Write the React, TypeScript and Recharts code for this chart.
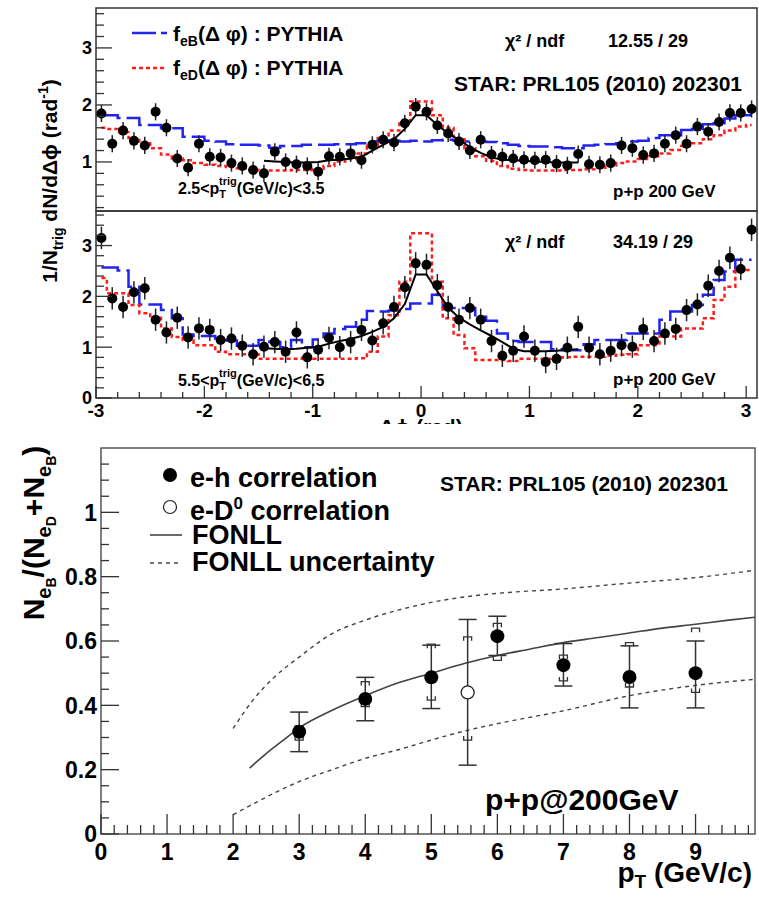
import React from 'react';
import { ComposedChart, Line, Scatter, XAxis, YAxis, ErrorBar, ReferenceArea } from 'recharts';

const FONT = '"Liberation Sans", Arial, Helvetica, sans-serif';
const BLUE = '#2323f0';
const RED = '#ff1c1c';
const FRAME = '#333';
const GREY = '#444';

// delta-phi bin centres (rad)
const phiBins = [
  -2.95, -2.85, -2.75, -2.65, -2.55, -2.45, -2.35, -2.25, -2.15, -2.05,
  -1.95, -1.85, -1.75, -1.65, -1.55, -1.45, -1.35, -1.25, -1.15, -1.05,
  -0.95, -0.85, -0.75, -0.65, -0.55, -0.45, -0.35, -0.25, -0.15, -0.05,
  0.05, 0.15, 0.25, 0.35, 0.45, 0.55, 0.65, 0.75, 0.85, 0.95,
  1.05, 1.15, 1.25, 1.35, 1.45, 1.55, 1.65, 1.75, 1.85, 1.95,
  2.05, 2.15, 2.25, 2.35, 2.45, 2.55, 2.65, 2.75, 2.85, 2.95,
  3.05,
];
const fitBins = phiBins.slice(15, 45);

// 2.5 < pT trig < 3.5
const lowData = [
  1.85, 1.32, 1.55, 1.37, 1.29, 1.88, 1.6, 1.06, 0.9, 1.32,
  1.09, 1.08, 0.98, 0.93, 0.86, 0.8, 1.18, 1.0, 0.96, 0.93,
  0.83, 1.1, 1.09, 1.15, 1.03, 1.3, 1.39, 1.34, 1.68, 1.97,
  1.88, 1.64, 1.5, 1.36, 1.2, 1.39, 1.13, 1.09, 1.06, 1.04,
  1.03, 1.04, 0.97, 0.94, 1.14, 0.96, 0.95, 0.98, 1.29, 1.24,
  1.12, 1.15, 1.32, 1.47, 1.32, 1.62, 1.53, 1.7, 1.86, 1.86,
  1.93,
];
const lowPythiaB = [
  1.82, 1.82, 1.77, 1.77, 1.65, 1.65, 1.59, 1.59, 1.44, 1.44,
  1.37, 1.36, 1.31, 1.3, 1.3, 1.29, 1.25, 1.28, 1.28, 1.3,
  1.3, 1.3, 1.31, 1.31, 1.33, 1.36, 1.38, 1.37, 1.36, 1.37,
  1.36, 1.38, 1.39, 1.37, 1.36, 1.36, 1.35, 1.33, 1.3, 1.28,
  1.27, 1.27, 1.26, 1.24, 1.24, 1.29, 1.3, 1.31, 1.33, 1.36,
  1.37, 1.42, 1.47, 1.47, 1.56, 1.58, 1.66, 1.68, 1.76, 1.82,
  1.82,
];
const lowPythiaD = [
  1.6, 1.58, 1.52, 1.42, 1.33, 1.24, 1.13, 1.06, 1.03, 0.98,
  0.95, 0.93, 0.91, 0.89, 0.86, 0.85, 0.85, 0.85, 0.86, 0.86,
  0.88, 0.93, 1.01, 1.05, 1.15, 1.28, 1.42, 1.55, 1.72, 2.06,
  2.06, 1.82, 1.6, 1.4, 1.24, 1.1, 1.02, 0.93, 0.88, 0.86,
  0.85, 0.85, 0.85, 0.86, 0.86, 0.87, 0.9, 0.94, 0.98, 1.01,
  1.05, 1.1, 1.15, 1.21, 1.28, 1.33, 1.4, 1.47, 1.55, 1.62,
  1.65,
];
const lowFit = [
  1.02, 1.01, 1.0, 0.99, 0.99, 1.0, 1.03, 1.04, 1.06, 1.09,
  1.2, 1.3, 1.4, 1.58, 1.82, 1.82, 1.65, 1.5, 1.39, 1.26,
  1.16, 1.08, 1.04, 1.03, 1.02, 1.01, 1.0, 0.99, 0.99, 0.99,
];
const lowErr = 0.15;

// 5.5 < pT trig < 6.5
const highData = [
  3.15, 1.96, 1.79, 2.08, 2.16, 1.54, 1.29, 1.58, 1.19, 1.37,
  1.34, 1.14, 1.17, 1.03, 0.86, 1.01, 1.1, 0.91, 1.29, 0.8,
  0.95, 1.18, 1.0, 1.1, 1.34, 1.13, 1.47, 1.79, 2.18, 2.65,
  2.62, 2.22, 1.79, 1.54, 1.77, 1.54, 1.12, 0.83, 0.93, 1.21,
  0.93, 0.71, 0.77, 0.99, 1.4, 0.99, 0.86, 0.93, 1.04, 1.01,
  1.36, 1.12, 1.27, 1.36, 1.73, 1.84, 2.21, 2.5, 2.76, 2.54,
  3.31,
];
const highPythiaB = [
  2.57, 2.57, 2.51, 2.19, 1.84, 1.84, 1.73, 1.57, 1.25, 1.22,
  1.22, 1.17, 1.13, 1.03, 1.03, 1.14, 1.1, 1.0, 1.14, 1.0,
  1.15, 1.27, 1.36, 1.4, 1.54, 1.71, 1.7, 1.72, 1.75, 1.86,
  1.86, 2.03, 1.77, 1.77, 1.77, 1.6, 1.52, 1.27, 1.12, 1.1,
  1.1, 1.1, 0.96, 0.94, 0.94, 1.06, 1.14, 1.14, 1.14, 1.27,
  1.27, 1.27, 1.54, 1.7, 1.7, 1.83, 2.03, 2.32, 2.49, 2.72,
  2.72,
];
const highPythiaD = [
  2.36, 2.06, 2.06, 1.83, 1.67, 1.58, 1.37, 1.2, 1.14, 1.04,
  1.04, 0.91, 0.86, 0.86, 0.86, 0.77, 0.77, 0.77, 0.77, 0.79,
  0.77, 0.77, 0.77, 0.77, 0.78, 0.91, 1.21, 1.63, 2.29, 3.24,
  3.24, 2.29, 1.57, 1.24, 0.98, 0.75, 0.75, 0.75, 0.73, 0.77,
  0.77, 0.77, 0.79, 0.8, 0.81, 0.81, 0.81, 0.83, 0.85, 0.86,
  1.04, 1.04, 1.21, 1.21, 1.37, 1.37, 1.57, 1.93, 2.19, 2.52,
  2.52,
];
const highFit = [
  0.98, 0.97, 0.96, 0.97, 0.99, 1.01, 1.07, 1.12, 1.16, 1.22,
  1.3, 1.4, 1.57, 1.85, 2.43, 2.43, 2.1, 1.78, 1.58, 1.45,
  1.33, 1.22, 1.1, 0.97, 0.92, 0.92, 0.92, 0.93, 0.95, 0.96,
];
const highErr = 0.22;

// B fraction vs pT
const ehPt = [3, 4, 5, 6, 7, 8, 9];
const ehRatio = [0.318, 0.42, 0.487, 0.615, 0.525, 0.488, 0.5];
const ehStatLo = [0.256, 0.352, 0.39, 0.555, 0.46, 0.392, 0.392];
const ehStatHi = [0.379, 0.487, 0.587, 0.677, 0.592, 0.585, 0.6];
const ehSysLo = [0.292, 0.396, 0.416, 0.54, 0.476, 0.457, 0.44];
const ehSysHi = [0.336, 0.474, 0.59, 0.655, 0.556, 0.595, 0.64];

const d0Pt = [5.55];
const d0Ratio = [0.44];
const d0StatLo = [0.214];
const d0StatHi = [0.667];
const d0SysLo = [0.292];
const d0SysHi = [0.613];

const fonllPt = [2.25, 2.5, 2.75, 3, 3.5, 4, 4.5, 5, 5.5, 6, 6.5, 7, 7.5, 8, 8.5, 9, 9.5, 9.9];
const fonllMid = [0.205, 0.25, 0.29, 0.33, 0.385, 0.43, 0.47, 0.5, 0.53, 0.555, 0.575, 0.595, 0.61, 0.625, 0.64, 0.652, 0.665, 0.674];
const fonllBandPt = [2, 2.3, 2.6, 3, 3.5, 4, 4.5, 5, 5.5, 6, 7, 8, 9, 9.9];
const fonllHi = [0.328, 0.416, 0.483, 0.55, 0.623, 0.665, 0.696, 0.72, 0.737, 0.748, 0.762, 0.78, 0.797, 0.82];
const fonllLo = [0.06, 0.093, 0.125, 0.163, 0.2, 0.235, 0.262, 0.292, 0.32, 0.343, 0.383, 0.43, 0.462, 0.481];

const steps = (a: number, b: number, s: number) => {
  const out: number[] = [];
  for (let i = 0; a + i * s <= b + 1e-9; i++) out.push(Math.round((a + i * s) * 1000) / 1000);
  return out;
};

const xy = (xs: number[], ys: number[]) => xs.map((x, i) => ({ x, y: ys[i] }));
const withErr = (xs: number[], ys: number[], e: number) => xs.map((x, i) => ({ x, y: ys[i], e }));
const withAsym = (xs: number[], ys: number[], lo: number[], hi: number[]) =>
  xs.map((x, i) => ({ x, y: ys[i], e: [ys[i] - lo[i], hi[i] - ys[i]] }));

const isMajor = (majors: number[], v: number) => majors.some((m) => Math.abs(m - v) < 1e-6);

// ROOT-like ticks: drawn inwards, labels outside
const tickY = (majors: number[], big: number, small: number, fs: number, gap: number) => (props: any) => {
  const { x, y, payload } = props;
  const major = isMajor(majors, payload.value);
  return (
    <g>
      <line x1={x} x2={x + (major ? big : small)} y1={y} y2={y} stroke={FRAME} strokeWidth={1.3} />
      {major ? (
        <text x={x - gap} y={y} dy="0.36em" textAnchor="end" fontSize={fs} fontWeight="bold" fontFamily={FONT} fill="#000">
          {payload.value}
        </text>
      ) : null}
    </g>
  );
};

const tickX = (majors: number[], big: number, small: number, fs: number, gap: number) => (props: any) => {
  const { x, y, payload } = props;
  const major = isMajor(majors, payload.value);
  return (
    <g>
      <line x1={x} x2={x} y1={y} y2={y - (major ? big : small)} stroke={FRAME} strokeWidth={1.3} />
      {major ? (
        <text x={x} y={y + gap} textAnchor="middle" fontSize={fs} fontWeight="bold" fontFamily={FONT} fill="#000">
          {payload.value}
        </text>
      ) : null}
    </g>
  );
};

const smallDot = (p: any) => <circle cx={p.cx} cy={p.cy} r={5} fill="#000" />;
const bigDot = (p: any) => <circle cx={p.cx} cy={p.cy} r={7} fill="#000" />;
const openDot = (p: any) => <circle cx={p.cx} cy={p.cy} r={6.5} fill="#fff" stroke="#222" strokeWidth={1.3} />;
const capTop = (p: any) => (
  <path d={`M${p.cx - 4},${p.cy + 4}V${p.cy}H${p.cx + 4}V${p.cy + 4}`} fill="none" stroke="#333" strokeWidth={1.3} />
);
const capBottom = (p: any) => (
  <path d={`M${p.cx - 4},${p.cy - 4}V${p.cy}H${p.cx + 4}V${p.cy - 4}`} fill="none" stroke="#333" strokeWidth={1.3} />
);

const PHI_DOMAIN = [-3, 3.1];

function PhiPanel(props: {
  height: number;
  top: number;
  bottom: number;
  yDomain: number[];
  yTicks: number[];
  yMajors: number[];
  showX: boolean;
  data: number[];
  err: number;
  pyB: number[];
  pyD: number[];
  fit: number[];
}) {
  const { height, top, bottom, yDomain, yTicks, yMajors, showX, data, err, pyB, pyD, fit } = props;
  return (
    <ComposedChart width={759} height={height} margin={{ top, right: 2, bottom, left: 0 }}>
      <XAxis
        type="number"
        dataKey="x"
        domain={PHI_DOMAIN}
        allowDataOverflow
        hide={!showX}
        height={showX ? 26 : 0}
        ticks={steps(-3, 3, 0.2)}
        interval={0}
        tickLine={false}
        axisLine={false}
        tickSize={0}
        tickMargin={0}
        tick={tickX([-3, -2, -1, 0, 1, 2, 3], 12, 6, 19, 19)}
      />
      <YAxis
        type="number"
        dataKey="y"
        domain={yDomain}
        allowDataOverflow
        width={96}
        ticks={yTicks}
        interval={0}
        tickLine={false}
        axisLine={false}
        tickSize={0}
        tickMargin={0}
        tick={tickY(yMajors, 16, 8, 18, 4)}
      />
      <ReferenceArea x1={PHI_DOMAIN[0]} x2={PHI_DOMAIN[1]} y1={yDomain[0]} y2={yDomain[1]} fill="none" stroke={FRAME} strokeWidth={1.5} ifOverflow="visible" />
      <Line data={xy(phiBins, pyB)} dataKey="y" type="step" stroke={BLUE} strokeWidth={2.5} strokeDasharray="22 6" dot={false} isAnimationActive={false} />
      <Line data={xy(phiBins, pyD)} dataKey="y" type="step" stroke={RED} strokeWidth={2.5} strokeDasharray="4 3" dot={false} isAnimationActive={false} />
      <Scatter data={withErr(phiBins, data, err)} dataKey="y" shape={smallDot} isAnimationActive={false}>
        <ErrorBar dataKey="e" direction="y" width={0} stroke="#222" strokeWidth={1.5} />
      </Scatter>
      <Line data={xy(fitBins, fit)} dataKey="y" type="linear" stroke="#000" strokeWidth={2} dot={false} isAnimationActive={false} />
    </ComposedChart>
  );
}

function RatioPanel() {
  return (
    <ComposedChart width={759} height={473} margin={{ top: 24, right: 4, bottom: 0, left: 0 }}>
      <XAxis
        type="number"
        dataKey="x"
        domain={[0, 9.9]}
        allowDataOverflow
        height={63}
        ticks={steps(0, 9.8, 0.2)}
        interval={0}
        tickLine={false}
        axisLine={false}
        tickSize={0}
        tickMargin={0}
        tick={tickX([0, 1, 2, 3, 4, 5, 6, 7, 8, 9], 20, 9, 23, 26)}
      />
      <YAxis
        type="number"
        dataKey="y"
        domain={[0, 1.2]}
        allowDataOverflow
        width={101}
        ticks={steps(0, 1.15, 0.05)}
        interval={0}
        tickLine={false}
        axisLine={false}
        tickSize={0}
        tickMargin={0}
        tick={tickY([0, 0.2, 0.4, 0.6, 0.8, 1], 18, 8, 23, 4)}
      />
      <ReferenceArea x1={0} x2={9.9} y1={0} y2={1.2} fill="none" stroke="#555" strokeWidth={1.5} ifOverflow="visible" />
      <Line data={xy(fonllBandPt, fonllHi)} dataKey="y" type="monotone" stroke={GREY} strokeWidth={1.4} strokeDasharray="4 4" dot={false} isAnimationActive={false} />
      <Line data={xy(fonllBandPt, fonllLo)} dataKey="y" type="monotone" stroke={GREY} strokeWidth={1.4} strokeDasharray="4 4" dot={false} isAnimationActive={false} />
      <Line data={xy(fonllPt, fonllMid)} dataKey="y" type="monotone" stroke={GREY} strokeWidth={1.6} dot={false} isAnimationActive={false} />
      <Scatter data={xy(ehPt, ehSysHi)} dataKey="y" shape={capTop} isAnimationActive={false} />
      <Scatter data={xy(ehPt, ehSysLo)} dataKey="y" shape={capBottom} isAnimationActive={false} />
      <Scatter data={xy(d0Pt, d0SysHi)} dataKey="y" shape={capTop} isAnimationActive={false} />
      <Scatter data={xy(d0Pt, d0SysLo)} dataKey="y" shape={capBottom} isAnimationActive={false} />
      <Scatter data={withAsym(d0Pt, d0Ratio, d0StatLo, d0StatHi)} dataKey="y" shape={openDot} isAnimationActive={false}>
        <ErrorBar dataKey="e" direction="y" width={9} stroke="#333" strokeWidth={1.5} />
      </Scatter>
      <Scatter data={withAsym(ehPt, ehRatio, ehStatLo, ehStatHi)} dataKey="y" shape={bigDot} isAnimationActive={false}>
        <ErrorBar dataKey="e" direction="y" width={9} stroke="#333" strokeWidth={1.5} />
      </Scatter>
    </ComposedChart>
  );
}

function Labels() {
  return (
    <svg width={759} height={897} style={{ position: 'absolute', left: 0, top: 0, pointerEvents: 'none' }} fontFamily={FONT} fontWeight="bold" fill="#000">
      <defs>
        <clipPath id="midClip">
          <rect x={0} y={0} width={759} height={424} />
        </clipPath>
      </defs>

      {/* upper panel legend */}
      <line x1={132} x2={167} y1={33} y2={33} stroke={BLUE} strokeWidth={2.5} strokeDasharray="24 5" />
      <text x={173} y={41} fontSize={21}>
        f<tspan fontSize={14} dy={5}>eB</tspan>
        <tspan dy={-5}>(Δ φ) : PYTHIA</tspan>
      </text>
      <line x1={132} x2={167} y1={68} y2={68} stroke={RED} strokeWidth={2.5} strokeDasharray="4 3" />
      <text x={173} y={75} fontSize={21}>
        f<tspan fontSize={14} dy={5}>eD</tspan>
        <tspan dy={-5}>(Δ φ) : PYTHIA</tspan>
      </text>
      <text x={505} y={47} fontSize={18}>χ² / ndf</text>
      <text x={608} y={47} fontSize={18}>12.55 / 29</text>
      <text x={742} y={91} fontSize={21} textAnchor="end">STAR: PRL105 (2010) 202301</text>
      <text x={178} y={194} fontSize={16}>
        2.5&lt;p<tspan fontSize={11} dy={4}>T</tspan>
        <tspan fontSize={11} dx={-7} dy={-13}>trig</tspan>
        <tspan fontSize={16} dy={9}>(GeV/c)&lt;3.5</tspan>
      </text>
      <text x={613} y={197} fontSize={17}>p+p 200 GeV</text>

      {/* middle panel */}
      <text x={505} y={248} fontSize={18}>χ² / ndf</text>
      <text x={613} y={248} fontSize={18}>34.19 / 29</text>
      <text x={178} y={386} fontSize={16}>
        5.5&lt;p<tspan fontSize={11} dy={4}>T</tspan>
        <tspan fontSize={11} dx={-7} dy={-13}>trig</tspan>
        <tspan fontSize={16} dy={9}>(GeV/c)&lt;6.5</tspan>
      </text>
      <text x={613} y={385} fontSize={17}>p+p 200 GeV</text>
      <text x={421} y={434} fontSize={21} textAnchor="middle" clipPath="url(#midClip)">Δϕ (rad)</text>

      <text transform="translate(57 181) rotate(-90)" fontSize={21} textAnchor="middle">
        1/N<tspan fontSize={14} dy={6}>trig</tspan>
        <tspan dy={-6}> dN/dΔϕ (rad</tspan>
        <tspan fontSize={14} dy={-9}>-1</tspan>
        <tspan dy={9}>)</tspan>
      </text>

      {/* lower panel */}
      <circle cx={170} cy={475} r={7} fill="#000" />
      <text x={190} y={487} fontSize={27}>e-h correlation</text>
      <circle cx={170} cy={507} r={6.5} fill="#fff" stroke="#222" strokeWidth={1.2} />
      <text x={190} y={520} fontSize={27}>
        e-D<tspan fontSize={17} dy={-11}>0</tspan>
        <tspan dy={11}> correlation</tspan>
      </text>
      <line x1={150} x2={182} y1={535} y2={535} stroke={GREY} strokeWidth={1.6} />
      <text x={192} y={544} fontSize={27}>FONLL</text>
      <line x1={150} x2={182} y1={563} y2={563} stroke={GREY} strokeWidth={1.4} strokeDasharray="4 4" />
      <text x={192} y={571} fontSize={27}>FONLL uncertainty</text>
      <text x={728} y={491} fontSize={21} textAnchor="end">STAR: PRL105 (2010) 202301</text>
      <text x={485} y={810} fontSize={30}>p+p@200GeV</text>
      <text x={752} y={882} fontSize={28} textAnchor="end">
        p<tspan fontSize={19} dy={6}>T</tspan>
        <tspan dy={-6}> (GeV/c)</tspan>
      </text>
      <text transform="translate(44 533) rotate(-90)" fontSize={30} textAnchor="middle">
        N<tspan fontSize={20} dy={7}>e</tspan>
        <tspan fontSize={14} dy={5}>B</tspan>
        <tspan fontSize={30} dy={-12}>/(N</tspan>
        <tspan fontSize={20} dy={7}>e</tspan>
        <tspan fontSize={14} dy={5}>D</tspan>
        <tspan fontSize={30} dy={-12}>+N</tspan>
        <tspan fontSize={20} dy={7}>e</tspan>
        <tspan fontSize={14} dy={5}>B</tspan>
        <tspan fontSize={30} dy={-12}>)</tspan>
      </text>
    </svg>
  );
}

export default function App() {
  return (
    <div style={{ position: 'absolute', left: 0, top: 0, width: 759, height: 897, background: '#fff', overflow: 'hidden' }}>
      <div style={{ position: 'absolute', left: 0, top: 0, width: 759, height: 212 }}>
        <PhiPanel
          height={212}
          top={8}
          bottom={1}
          yDomain={[0.14, 3.7]}
          yTicks={steps(0.2, 3.6, 0.2)}
          yMajors={[1, 2, 3]}
          showX={false}
          data={lowData}
          err={lowErr}
          pyB={lowPythiaB}
          pyD={lowPythiaD}
          fit={lowFit}
        />
      </div>
      <div style={{ position: 'absolute', left: 0, top: 0, width: 759, height: 424, overflow: 'hidden' }}>
        <PhiPanel
          height={424}
          top={211}
          bottom={0}
          yDomain={[0, 3.68]}
          yTicks={steps(0, 3.6, 0.2)}
          yMajors={[0, 1, 2, 3]}
          showX={true}
          data={highData}
          err={highErr}
          pyB={highPythiaB}
          pyD={highPythiaD}
          fit={highFit}
        />
      </div>
      <div style={{ position: 'absolute', left: 0, top: 424, width: 759, height: 473 }}>
        <RatioPanel />
      </div>
      <Labels />
    </div>
  );
}
